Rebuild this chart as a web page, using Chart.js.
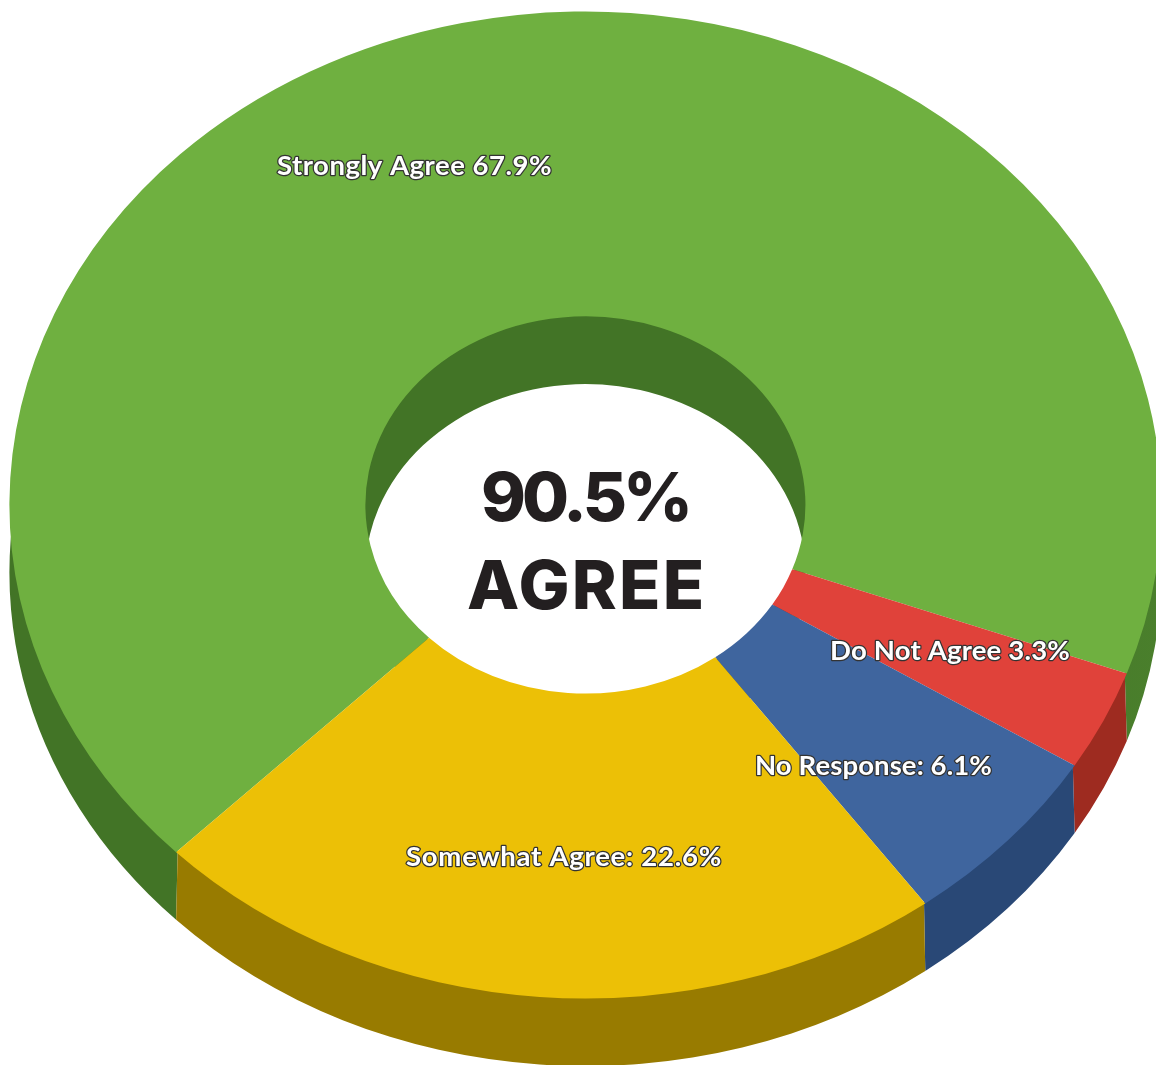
<!DOCTYPE html>
<html>
<head>
<meta charset="utf-8">
<title>90.5% Agree</title>
<script src="https://cdn.jsdelivr.net/npm/chart.js@4"></script>
<style>
    html, body { margin: 0; padding: 0; background: #fff; overflow: hidden; }
    canvas { display: block; }
</style>
</head>
<body>
<canvas id="agreeChart" width="1156" height="1065"></canvas>
<script>
// Survey values, clockwise from the green/yellow edge
const categories = ['Strongly Agree', 'Do Not Agree', 'No Response', 'Somewhat Agree'];
const percents = [67.9, 3.3, 6.1, 22.6];
const sliceLabels = ['Strongly Agree 67.9%', 'Do Not Agree 3.3%', 'No Response: 6.1%', 'Somewhat Agree: 22.6%'];
const centerLines = ['90.5%', 'AGREE'];

const topColors = ['#6fb040', '#e0423a', '#3f659e', '#ecc006'];
const sideColors = ['#427426', '#9e2b20', '#294876', '#987b00'];

// Ellipse of the top face and how deep the slab is
const faceX = 585.4, faceY = 505, faceRx = 576, faceRy = 493.5, depth = 67.6;

// Where each slice label goes: left edge, baseline, width
const labelSpots = [[277, 175, 275], [830, 660, 240], [755, 775, 237], [406, 866, 316]];

// Squash the round doughnut into the ellipse, shifted down by offset
const applyFace = (ctx, chart, offset) => {
    const arc = chart.getDatasetMeta(0).data[0];
    ctx.translate(faceX, faceY + offset);
    ctx.scale(faceRx / arc.outerRadius, faceRy / arc.outerRadius);
    ctx.translate(-arc.x, -arc.y);
};

// One wall: band from just under the top face down to the pushed down edge
const fillWall = (ctx, chart, arc, topRadius, radius, fill) => {
    ctx.beginPath();
    ctx.save();
    applyFace(ctx, chart, 0);
    ctx.arc(arc.x, arc.y, topRadius, arc.startAngle, arc.endAngle);
    ctx.restore();
    ctx.save();
    applyFace(ctx, chart, depth);
    ctx.arc(arc.x, arc.y, radius, arc.endAngle, arc.startAngle, true);
    ctx.restore();
    ctx.closePath();
    ctx.fillStyle = fill;
    ctx.fill();
};

const tiltPlugin = {
    id: 'tilt',
    beforeDatasetsDraw(chart) {
        const ctx = chart.ctx;
        // The green outer wall gets a little lighter towards the right edge
        const greenWall = ctx.createLinearGradient(faceX + faceRx * 0.55, 0, faceX + faceRx, 0);
        greenWall.addColorStop(0, '#427426');
        greenWall.addColorStop(1, '#4a7f2c');

        chart.getDatasetMeta(0).data.forEach((arc, i) => {
            fillWall(ctx, chart, arc, arc.outerRadius - 2, arc.outerRadius, i === 0 ? greenWall : sideColors[i]);
            fillWall(ctx, chart, arc, arc.innerRadius + 2, arc.innerRadius, sideColors[i]);
        });
        ctx.save();
        applyFace(ctx, chart, 0);
    },
    afterDatasetsDraw(chart) {
        chart.ctx.restore();
    }
};

const textPlugin = {
    id: 'texts',
    afterDraw(chart) {
        const ctx = chart.ctx;
        ctx.save();
        ctx.textAlign = 'left';
        ctx.textBaseline = 'alphabetic';
        ctx.lineJoin = 'round';

        ctx.font = '700 27.5px Lato';
        sliceLabels.forEach((text, i) => {
            const [x, y, width] = labelSpots[i];
            ctx.letterSpacing = '0px';
            const gap = (width - ctx.measureText(text).width) / text.length;
            ctx.letterSpacing = gap + 'px';
            ctx.lineWidth = 2.5;
            ctx.strokeStyle = '#333333';
            ctx.strokeText(text, x, y);
            ctx.fillStyle = '#ffffff';
            ctx.fillText(text, x, y);
        });

        ctx.fillStyle = '#231f20';
        ctx.font = '800 68px Inter';
        ctx.letterSpacing = '-4px';
        ctx.fillText(centerLines[0], 481, 521);
        ctx.letterSpacing = '2.2px';
        ctx.fillText(centerLines[1], 467, 609);
        ctx.restore();
    }
};

const agreeChart = new Chart(document.getElementById('agreeChart').getContext('2d'), {
    type: 'doughnut',
    data: {
        labels: categories,
        datasets: [{
            data: percents,
            backgroundColor: topColors,
            borderWidth: 0,
            clip: false
        }]
    },
    options: {
        responsive: false,
        animation: false,
        cutout: '38.2%',
        rotation: 225.28,
        events: [],
        plugins: {
            legend: { display: false },
            tooltip: { enabled: false }
        }
    },
    plugins: [tiltPlugin, textPlugin]
});
</script>
</body>
</html>
